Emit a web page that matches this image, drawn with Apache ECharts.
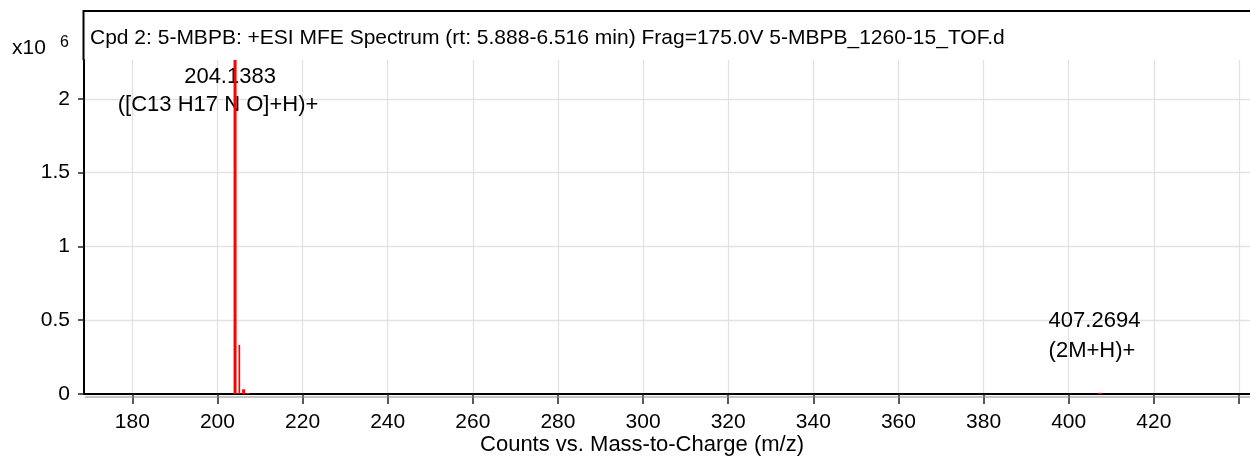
<!DOCTYPE html>
<html>
<head>
<meta charset="utf-8">
<script src="https://cdn.jsdelivr.net/npm/echarts@6/dist/echarts.min.js"></script>
<style>
  html, body { margin: 0; padding: 0; background: #fff; }
  #chart { width: 1250px; height: 457px; }
</style>
</head>
<body>
<div id="chart"></div>
<script>
// Centroided peaks of the MFE spectrum (m/z, counts)
const peakMz = [204.1383, 205.1416, 206.1445, 207.1470, 407.2694];
const peakCounts = [2263000, 333000, 32000, 6000, 8000];

// Annotated peaks and their assignments
const annotatedMz = [204.1383, 407.2694];
const annotations = ['([C13 H17 N O]+H)+', '(2M+H)+'];

// Axis ticks and labels
const xTicks = [180, 200, 220, 240, 260, 280, 300, 320, 340, 360, 380, 400, 420, 440];
const xTickLabels = ['180', '200', '220', '240', '260', '280', '300', '320', '340', '360', '380', '400', '420'];
const yTicks = [0, 500000, 1000000, 1500000, 2000000];
const yTickLabels = ['0', '0.5', '1', '1.5', '2'];

// Visible ranges
const xRange = [168.65, 442.6];
const yRange = [0, 2263000];

const titleText = 'Cpd 2: 5-MBPB: +ESI MFE Spectrum (rt: 5.888-6.516 min) Frag=175.0V 5-MBPB_1260-15_TOF.d';
const xAxisTitle = 'Counts vs. Mass-to-Charge (m/z)';
const yScaleText = 'x10';
const yScaleExp = '6';

const FONT = '"Liberation Sans", Arial, sans-serif';
const GRID = { left: 84, right: 0, top: 60, bottom: 63 };

const chart = echarts.init(document.getElementById('chart'), null, { renderer: 'canvas' });

const peakData = peakMz.map((m, i) => [m, peakCounts[i]]);
const labelData = annotatedMz.map((m, i) => {
  const k = peakMz.indexOf(m);
  return [m, peakCounts[k], i];
});

chart.setOption({
  animation: false,
  backgroundColor: '#ffffff',
  grid: GRID,
  xAxis: {
    type: 'value',
    min: xRange[0],
    max: xRange[1],
    axisLine: { show: true, lineStyle: { color: '#000', width: 2 } },
    axisTick: {
      show: true, length: 10, inside: false,
      customValues: xTicks,
      lineStyle: { color: '#222', width: 1.5 }
    },
    axisLabel: {
      customValues: xTicks.slice(0, xTickLabels.length),
      formatter: v => xTickLabels[xTicks.indexOf(v)] || '',
      color: '#000', fontFamily: FONT, fontSize: 21, margin: 18
    },
    splitLine: { show: true, lineStyle: { color: '#e2e2e2', width: 1.3 } }
  },
  yAxis: {
    type: 'value',
    min: yRange[0],
    max: yRange[1],
    axisLine: { show: true, lineStyle: { color: '#000', width: 2 } },
    axisTick: {
      show: true, length: 6,
      customValues: yTicks,
      lineStyle: { color: '#222', width: 1.5 }
    },
    axisLabel: {
      customValues: yTicks,
      formatter: v => yTickLabels[yTicks.indexOf(v)] || '',
      color: '#000', fontFamily: FONT, fontSize: 21, margin: 14
    },
    splitLine: { show: true, lineStyle: { color: '#e2e2e2', width: 1.3 } }
  },
  series: [
    {
      // peak annotations (m/z value + assignment)
      type: 'custom',
      coordinateSystem: 'cartesian2d',
      data: labelData,
      clip: false,
      z: 3,
      renderItem(params, api) {
        const mz = api.value(0), counts = api.value(1), idx = api.value(2);
        const top = api.coord([mz, counts]);
        const base = api.coord([mz, 0]);
        const style = { fill: '#000', font: '22px ' + FONT, textVerticalAlign: 'middle' };
        let p1, p2, align1, align2;
        if (top[1] - GRID.top < 80) {
          // peak reaches the top of the plot: labels go beside it, inside the frame
          p1 = [top[0] - 5, top[1] + 17]; align1 = 'center';
          p2 = [top[0] - 17, top[1] + 45]; align2 = 'center';
        } else {
          p1 = [top[0] - 51, base[1] - 73]; align1 = 'left';
          p2 = [top[0] - 51, base[1] - 43]; align2 = 'left';
        }
        return {
          type: 'group',
          children: [
            { type: 'text', x: p1[0], y: p1[1], style: Object.assign({ text: mz.toFixed(4), textAlign: align1 }, style) },
            { type: 'text', x: p2[0], y: p2[1], style: Object.assign({ text: annotations[idx], textAlign: align2 }, style) }
          ]
        };
      }
    },
    {
      // spectrum sticks
      type: 'custom',
      coordinateSystem: 'cartesian2d',
      data: peakData,
      z: 4,
      renderItem(params, api) {
        const mz = api.value(0), counts = api.value(1);
        const top = api.coord([mz, counts]);
        const base = api.coord([mz, 0]);
        // tall isotope sticks are drawn thin, the base peak and small ones wider
        const w = (counts > 1000000 || counts < 100000) ? 3 : 1.7;
        const h = Math.max(base[1] - top[1], 1);
        return {
          type: 'rect',
          shape: { x: top[0] - w / 2, y: base[1] - h, width: w, height: h },
          style: { fill: '#ff0000' }
        };
      }
    }
  ],
  graphic: [
    // frame: left edge up to the header band, and the top border
    { type: 'polyline', shape: { points: [[83.5, GRID.top], [83.5, 11], [1250, 11]] },
      style: { stroke: '#000', lineWidth: 2, fill: null }, z: 10 },
    // grey shadow under the baseline
    { type: 'line', shape: { x1: 85, y1: 397, x2: 1250, y2: 397 },
      style: { stroke: '#8a8a8a', lineWidth: 1 }, z: 10 },
    { type: 'text', x: 90, y: 38, style: { text: titleText, font: '21px ' + FONT, fill: '#000', textVerticalAlign: 'middle' } },
    { type: 'text', x: 12, y: 48, style: { text: yScaleText, font: '21px ' + FONT, fill: '#000', textVerticalAlign: 'middle' } },
    { type: 'text', x: 60, y: 43, style: { text: yScaleExp, font: '16px ' + FONT, fill: '#000', textVerticalAlign: 'middle' } },
    { type: 'text', x: 642, y: 445, style: { text: xAxisTitle, font: '22px ' + FONT, fill: '#000', textAlign: 'center', textVerticalAlign: 'middle' } }
  ]
});
</script>
</body>
</html>
